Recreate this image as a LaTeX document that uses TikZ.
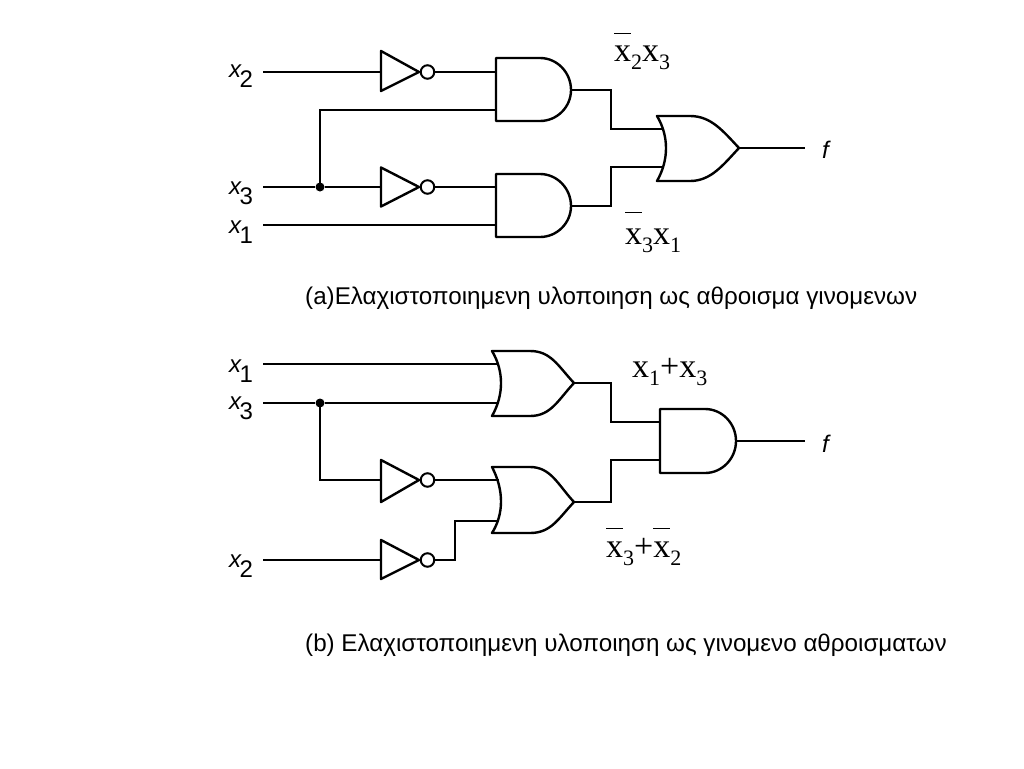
\documentclass[tikz,border=0pt]{standalone}
\usepackage{fontspec}
\setmainfont{Liberation Sans}
\newfontfamily\timesf{Liberation Serif}
\usetikzlibrary{calc}
\tikzset{
  wire/.style={line width=2.4pt,line join=miter},
  gateline/.style={line width=2.4pt,line join=round,fill=white},
  bubble/.style={circle,draw,line width=2pt,fill=white,minimum size=13.5pt,inner sep=0pt},
  dotj/.style={circle,fill=black,minimum size=9pt,inner sep=0pt},
  inlabel/.style={inner sep=0pt,anchor=base west,font=\fontsize{24}{24}\selectfont},
  caption/.style={inner sep=0pt,anchor=base west,font=\fontsize{24.2}{26}\selectfont},
  exprlabel/.style={inner sep=0pt,anchor=base west,font=\fontsize{34}{34}\timesf},
}
\newcommand{\invname}[5]{% name, x, y, halfup, halfdown
  \coordinate (#1-in) at (#2,#3);
  \coordinate (#1-tip) at (#2+38,#3);
  \draw[gateline] (#2,#3-#4) -- (#2+38,#3) -- (#2,#3+#5) -- cycle;
  \node[bubble] (#1-b) at (#2+46.5,#3) {};
}
\newcommand{\andname}[6]{% name, top, bottom, in1, in2, out ; with x via \gx \gs \gr
  \coordinate (#1-a) at (\gx,#4);
  \coordinate (#1-b) at (\gx,#5);
  \coordinate (#1-o) at (\gr,#6);
  \draw[gateline] (\gx,#2) -- (\gs,#2) .. controls ({\gs+0.55*(\gr-\gs)},#2) and (\gr,{#6-0.55*(#6-#2)}) .. (\gr,#6)
     .. controls (\gr,{#6+0.55*(#3-#6)}) and ({\gs+0.55*(\gr-\gs)},#3) .. (\gs,#3) -- (\gx,#3) -- cycle;
}
\newcommand{\orname}[6]{% name, top, bottom, in1, in2, out ; with \gx tip, \gm mid, \gs straight end, \gr apex
  \coordinate (#1-a) at ({\gx+0.62*(\gm-\gx)+1},#4);
  \coordinate (#1-b) at ({\gx+0.62*(\gm-\gx)+1},#5);
  \coordinate (#1-o) at (\gr,#6);
  \draw[gateline] (\gx,#2) -- (\gs,#2) .. controls ({\gs+21},#2) and ({\gr-16},{#6-17}) .. (\gr,#6)
     .. controls ({\gr-16},{#6+17}) and ({\gs+21},#3) .. (\gs,#3) -- (\gx,#3)
     .. controls ({\gm+3},{#6+12}) and ({\gm+3},{#6-12}) .. (\gx,#2) -- cycle;
}
\newcommand{\ob}[2]{\rlap{\raisebox{#1}{\rule{17pt}{1pt}}}#2}
\newcommand{\sbs}[1]{\raisebox{-8pt}{\fontsize{22}{22}\selectfont #1}}
\newcommand{\isub}[2]{\textit{#1}\kern-2.2pt\raisebox{-10pt}{#2}}
\begin{document}
\begin{tikzpicture}[x=1pt,y=-1pt]
\useasboundingbox (0,0) rectangle (1024,768);
\fill[white] (0,0) rectangle (1024,768);

% ---------- panel a ----------
\node[inlabel] (la2) at (229,77.5) {\isub{x}{2}};
\node[inlabel] (la3) at (229,194.5) {\isub{x}{3}};
\node[inlabel] (la1) at (229,233) {\isub{x}{1}};
\node[inlabel] (laf) at (822,158) {\textit{f}};
\coordinate (a2s) at (263,72);
\coordinate (a3s) at (263,187);
\coordinate (a1s) at (263,225);
\coordinate (afe) at (805,148);

\def\gx{496}\def\gs{540}\def\gr{571}
\andname{A1}{58}{121}{72}{110}{90}
\andname{A2}{174}{237}{187}{225}{206}
\def\gx{657}\def\gm{666}\def\gs{690}\def\gr{739}
\orname{O1}{116}{181}{129}{167}{148}
\invname{Ia1}{381}{72}{21}{19}
\invname{Ia2}{381}{187}{19.5}{19.5}

\node[dotj] (ja) at (320,187) {};
\draw[wire] (a2s) -- (Ia1-in);
\draw[wire] (Ia1-b) -- (A1-a);
\draw[wire] (a3s) -- (ja);
\draw[wire] (ja) -- (Ia2-in);
\draw[wire] (Ia2-b) -- (A2-a);
\draw[wire] (ja.center) |- (A1-b);
\draw[wire] (a1s) -- (A2-b);
\draw[wire] (A1-o) -| (611,129) -- (O1-a);
\draw[wire] (A2-o) -| (611,167) -- (O1-b);
\draw[wire] (O1-o) -- (afe);

\node[exprlabel] (ea1) at (614,62) {\ob{28pt}{x}\sbs{2}x\sbs{3}};
\node[exprlabel] (ea2) at (625,244) {\ob{31.5pt}{x}\sbs{3}x\sbs{1}};
\node[caption] (ca) at (305,304) {(a)Ελαχιστοποιημενη υλοποιηση ως αθροισμα γινομενων};

% ---------- panel b ----------
\node[inlabel] (lb1) at (229,372.2) {\isub{x}{1}};
\node[inlabel] (lb3) at (229,409.5) {\isub{x}{3}};
\node[inlabel] (lb2) at (229,567.5) {\isub{x}{2}};
\node[inlabel] (lbf) at (822,452) {\textit{f}};
\coordinate (b1s) at (263,364);
\coordinate (b3s) at (263,403);
\coordinate (b2s) at (263,560);
\coordinate (bfe) at (805,441);

\def\gx{492}\def\gm{501}\def\gs{530}\def\gr{574}
\orname{O2}{351}{416}{364}{403}{383}
\orname{O3}{467}{533}{480}{521}{502}
\def\gx{660}\def\gs{705}\def\gr{736}
\andname{A3}{409}{473}{422}{460}{441}
\invname{Ib1}{381}{480}{20}{22}
\invname{Ib2}{381}{560}{20}{19}

\node[dotj] (jb) at (320,403) {};
\draw[wire] (b1s) -- (O2-a);
\draw[wire] (b3s) -- (jb);
\draw[wire] (jb) -- (O2-b);
\draw[wire] (jb.center) |- (Ib1-in);
\draw[wire] (Ib1-b) -- (O3-a);
\draw[wire] (b2s) -- (Ib2-in);
\draw[wire] (Ib2-b.east) -- (455,560) |- (O3-b);
\draw[wire] (O2-o) -| (611,422) -- (A3-a);
\draw[wire] (O3-o) -| (611,460) -- (A3-b);
\draw[wire] (A3-o) -- (bfe);

\node[exprlabel] (eb1) at (632,377) {x\sbs{1}+x\sbs{3}};
\node[exprlabel] (eb2) at (606,557) {\ob{28pt}{x}\sbs{3}+\ob{28pt}{x}\sbs{2}};
\node[caption] (cb) at (305,651) {(b) Ελαχιστοποιημενη υλοποιηση ως γινομενο αθροισματων};
\end{tikzpicture}
\end{document}
